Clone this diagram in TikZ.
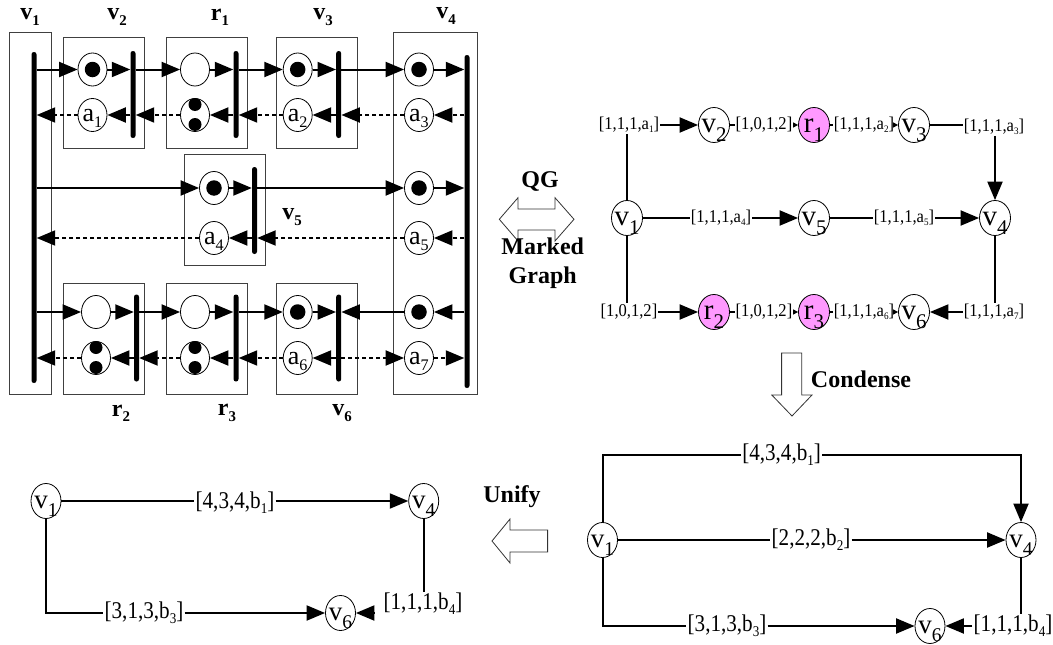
\documentclass[tikz,border=0pt]{standalone}
\usepackage{fontspec}
\usepackage{graphicx}
\setmainfont{Liberation Serif}
\newfontfamily\narrowa[FakeStretch=0.92]{Liberation Serif}
\newfontfamily\narrowb[FakeStretch=0.88]{Liberation Serif}
\usetikzlibrary{shapes.geometric,arrows.meta}
\newcommand\sbs[1]{\raisebox{-.22em}{\scalebox{.62}{#1}}}
\newcommand\sbl[1]{\raisebox{-.14em}{\scalebox{.55}{#1}}}
\newcommand\sbc[1]{\raisebox{-.3em}{\scalebox{.72}{#1}}}
\newcommand\clab[2]{\smash{\makebox[0pt]{\raisebox{-.27em}{#1\sbc{#2}}}}}
\newcommand\alab[2]{\smash{\makebox[0pt]{\raisebox{-.25em}{#1\sbs{#2}}}}}
\newcommand\hd[2]{\textbf{#1\sbs{#2}}}
\definecolor{pink1}{HTML}{FF99FF}
\tikzset{
  box/.style={draw=black!75,line width=.9pt,fill=none},
  place/.style={ellipse,draw,fill=white,line width=.8pt,inner sep=0pt,minimum width=29pt,minimum height=33pt,font=\fontsize{26}{28}\selectfont},
  tok/.style={circle,fill=black,inner sep=0pt,minimum size=15.5pt},
  bar/.style={rectangle,rounded corners=2.4pt,fill=black,inner sep=0pt,minimum width=5pt},
  arr/.style={-{Triangle[length=18.5pt,width=15pt]},line width=2pt},
  darr/.style={-{Triangle[length=18.5pt,width=15pt]},line width=2pt,dash pattern=on 4pt off 3pt},
  tiny/.style={-{Triangle[length=5pt,width=5pt]},line width=1.6pt},
  lin/.style={line width=2pt},
  head/.style={font=\fontsize{24}{26}\selectfont\bfseries,inner sep=0pt},
  vert/.style={ellipse,draw,fill=white,line width=.8pt,inner sep=0pt,minimum width=31pt,minimum height=35pt,font=\fontsize{29}{30}\selectfont},
  vertb/.style={vert,minimum width=30pt,minimum height=35pt,font=\fontsize{27}{30}\selectfont},
  res/.style={vert,fill=pink1},
  lab/.style={inner sep=1pt,font=\fontsize{18}{20}\narrowa},
  labb/.style={inner sep=1pt,font=\fontsize{24}{26}\narrowb},
  hollow/.style={draw=black!80,line width=.8pt,fill=white},
}
\begin{document}
\begin{tikzpicture}[x=1pt,y=-1pt]
\useasboundingbox (0,0) rectangle (1053,645);
% boxes
\draw[box] (9.5,32.5) rectangle (51.5,394.5);
\draw[box] (63.5,37) rectangle (144.5,148);
\draw[box] (166,37) rectangle (247,148);
\draw[box] (276,37) rectangle (357,148);
\draw[box] (393.7,32.5) rectangle (477.7,394.5);
\draw[box] (184.5,154) rectangle (265.5,265.5);
\draw[box] (63.5,283.5) rectangle (144.5,394.5);
\draw[box] (166,283.5) rectangle (247,394.5);
\draw[box] (276,283.5) rectangle (357,394.5);
% bars
\node[bar,minimum height=331pt] (b1) at (34,217.5) {};
\node[bar,minimum height=87pt] (b2) at (133,94.5) {};
\node[bar,minimum height=87pt] (br1) at (236,94.5) {};
\node[bar,minimum height=87pt] (b3) at (338.7,94.5) {};
\node[bar,minimum height=333pt] (b4) at (467,221.5) {};
\node[bar,minimum height=87pt] (b5) at (254.5,210.5) {};
\node[bar,minimum height=87pt] (br2) at (136.5,338) {};
\node[bar,minimum height=87pt] (br3) at (236,338) {};
\node[bar,minimum height=87pt] (b6) at (338.7,338) {};
% places
\node[place] (p1) at (92.5,69.5) {};
\node[place] (q1) at (92.5,115) {\alab{a}{1}};
\node[place] (p2) at (195,69.5) {};
\node[place] (q2) at (195,115) {};
\node[place] (p3) at (297.7,69.5) {};
\node[place] (q3) at (297.7,115) {\alab{a}{2}};
\node[place] (p4) at (419,69.5) {};
\node[place] (q4) at (419,115) {\alab{a}{3}};
\node[place] (p5) at (214,188) {};
\node[place] (q5) at (214,238) {\alab{a}{4}};
\node[place] (p6) at (419,188) {};
\node[place] (q6) at (419,238) {\alab{a}{5}};
\node[place] (p7) at (96,312) {};
\node[place] (q7) at (96,358) {};
\node[place] (p8) at (195,312) {};
\node[place] (q8) at (195,358) {};
\node[place] (p9) at (297.7,312) {};
\node[place] (q9) at (297.7,358) {\alab{a}{6}};
\node[place] (p10) at (419,312) {};
\node[place] (q10) at (419,358) {\alab{a}{7}};
% tokens
\node[tok] (t1) at (p1) {};
\node[tok] (t3) at (p3) {};
\node[tok] (t4) at (p4) {};
\node[tok] (t5) at (p5) {};
\node[tok] (t6) at (p6) {};
\node[tok] (t9) at (p9) {};
\node[tok] (t10) at (p10) {};
\node[tok,minimum size=13pt] (t21) at (195,104.5) {};
\node[tok,minimum size=13pt] (t22) at (195,124.5) {};
\node[tok,minimum size=13pt] (t71) at (96,347.5) {};
\node[tok,minimum size=13pt] (t72) at (96,367.5) {};
\node[tok,minimum size=13pt] (t81) at (195,347.5) {};
\node[tok,minimum size=13pt] (t82) at (195,367.5) {};
% top row solid
\draw[arr] (b1.east |- p1) -- (p1);
\draw[arr] (p1) -- (p1 -| b2.west);
\draw[arr] (b2.east |- p2) -- (p2);
\draw[arr] (p2) -- (p2 -| br1.west);
\draw[arr] (br1.east |- p3) -- (p3);
\draw[arr] (p3) -- (p3 -| b3.west);
\draw[arr] (b3.east |- p4) -- (p4);
\draw[arr] (p4) -- (p4 -| b4.west);
% top row dashed
\draw[darr] (b4.west |- q4) -- (q4);
\draw[darr] (q4) -- (q4 -| b3.east);
\draw[arr] (b3.west |- q3) -- (q3);
\draw[darr] (q3) -- (q3 -| br1.east);
\draw[arr] (br1.west |- q2) -- (q2);
\draw[darr] (q2) -- (q2 -| b2.east);
\draw[arr] (b2.west |- q1) -- (q1);
\draw[darr] (q1) -- (q1 -| b1.east);
% middle
\draw[arr] (b1.east |- p5) -- (p5);
\draw[arr] (p5) -- (p5 -| b5.west);
\draw[arr] (b5.east |- p6) -- (p6);
\draw[arr] (p6) -- (p6 -| b4.west);
\draw[darr] (b4.west |- q6) -- (q6);
\draw[darr] (q6) -- (q6 -| b5.east);
\draw[arr] (b5.west |- q5) -- (q5);
\draw[darr] (q5) -- (q5 -| b1.east);
% bottom solid
\draw[arr] (b1.east |- p7) -- (p7);
\draw[arr] (p7) -- (p7 -| br2.west);
\draw[arr] (br2.east |- p8) -- (p8);
\draw[arr] (p8) -- (p8 -| br3.west);
\draw[arr] (br3.east |- p9) -- (p9);
\draw[arr] (p9) -- (p9 -| b6.west);
\draw[arr] (p10) -- (p10 -| b6.east);
\draw[arr] (b4.west |- p10) -- (p10);
% bottom dashed
\draw[darr] (q7) -- (q7 -| b1.east);
\draw[arr] (br2.west |- q7) -- (q7);
\draw[darr] (q8) -- (q8 -| br2.east);
\draw[arr] (br3.west |- q8) -- (q8);
\draw[darr] (q9) -- (q9 -| br3.east);
\draw[arr] (b6.west |- q9) -- (q9);
\draw[darr] (b6.east |- q10) -- (q10);
\draw[darr] (q10) -- (q10 -| b4.west);
% heads
\node[head] (h1) at (30,17) {\hd{v}{1}};
\node[head] (h2) at (117,17) {\hd{v}{2}};
\node[head] (h3) at (220,17) {\hd{r}{1}};
\node[head] (h4) at (323,17) {\hd{v}{3}};
\node[head] (h5) at (446,16) {\hd{v}{4}};
\node[head] (h6) at (292,217) {\hd{v}{5}};
\node[head] (h7) at (121,413) {\hd{r}{2}};
\node[head] (h8) at (227,413) {\hd{r}{3}};
\node[head] (h9) at (342,413) {\hd{v}{6}};
% QG
\draw[hollow] (499.3,219.3) -- (518,197.7) -- (518,209) -- (555,209) -- (555,197.7) -- (574,219.3) -- (555,241) -- (555,230) -- (518,230) -- (518,241) -- cycle;
\node[head] (qg) at (540,181) {QG};
\node[head] (mk) at (542.7,246) {Marked};
\node[head] (gr) at (542.7,278) {Graph};
% upper right graph
\node[vert] (r1) at (627,218) {\clab{v}{1}};
\node[vert] (r2) at (714,125) {\clab{v}{2}};
\node[res] (rr1) at (814,125) {\clab{r}{1}};
\node[vert] (r3) at (914,125) {\clab{v}{3}};
\node[vert] (r5) at (814,218) {\clab{v}{5}};
\node[vert] (r4) at (995,218) {\clab{v}{4}};
\node[res] (rr2) at (714,312) {\clab{r}{2}};
\node[res] (rr3) at (814,312) {\clab{r}{3}};
\node[vert] (r6) at (914,312) {\clab{v}{6}};
\node[lab] (l1) at (629,125) {[1,1,1,a\sbl{1}]};
\node[lab] (l2) at (764,125) {[1,0,1,2]};
\node[lab] (l3) at (864,125) {[1,1,1,a\sbl{2}]};
\node[lab] (l4) at (994,127) {[1,1,1,a\sbl{3}]};
\node[lab] (l5) at (721,218) {[1,1,1,a\sbl{4}]};
\node[lab] (l6) at (904,218) {[1,1,1,a\sbl{5}]};
\node[lab] (l7) at (629,312) {[1,0,1,2]};
\node[lab] (l8) at (764,312) {[1,0,1,2]};
\node[lab] (l9) at (864,312) {[1,1,1,a\sbl{6}]};
\node[lab] (l10) at (994,312) {[1,1,1,a\sbl{7}]};
\draw[lin] (r1) -- (r1 |- l1.south);
\draw[arr] (l1) -- (r2);
\draw[lin] (r2) -- (l2);
\draw[tiny] (l2) -- (rr1);
\draw[lin] (rr1) -- (l3);
\draw[tiny] (l3) -- (r3);
\draw[lin] (r3) -- (r3 -| l4.west);
\draw[arr] (r4 |- l4.south) -- (r4);
\draw[lin] (r1) -- (l5);
\draw[arr] (l5) -- (r5);
\draw[lin] (r5) -- (l6);
\draw[arr] (l6) -- (r4);
\draw[lin] (r1) -- (r1 |- l7.north);
\draw[arr] (l7) -- (rr2);
\draw[lin] (rr2) -- (l8);
\draw[tiny] (l8) -- (rr3);
\draw[lin] (rr3) -- (l9);
\draw[tiny] (l9) -- (r6);
\draw[lin] (r4) -- (r4 |- l10.north);
\draw[arr] (l10) -- (r6);
% condense
\draw[hollow] (781.6,353) -- (801.8,353) -- (801.8,395) -- (812,395) -- (792,416) -- (771.8,395) -- (781.6,395) -- cycle;
\node[head] (cd) at (861,379) {Condense};
% lower right graph
\node[vertb] (s1) at (602.5,540) {\clab{v}{1}};
\node[vertb] (s4) at (1021,540) {\clab{v}{4}};
\node[vertb] (s6) at (930,626) {\clab{v}{6}};
\node[labb] (m1) at (781.6,455) {[4,3,4,b\sbs{1}]};
\node[labb] (m2) at (811,540) {[2,2,2,b\sbs{2}]};
\node[labb] (m3) at (727,626) {[3,1,3,b\sbs{3}]};
\node[labb] (m4) at (1013,626) {[1,1,1,b\sbs{4}]};
\draw[lin] (s1) |- (m1);
\draw[arr] (m1) -| (s4);
\draw[lin] (s1) -- (s1 -| m2.west);
\draw[arr] (s4 -| m2.east) -- (s4);
\draw[lin] (s1) |- (m3);
\draw[arr] (m3) -- (s6);
\draw[lin] (s4) -- (s4 |- m4.north);
\draw[arr] (m4) -- (s6);
% unify
\draw[hollow] (492,541) -- (510,519) -- (510,530) -- (547.6,530) -- (547.6,552) -- (510,552) -- (510,563) -- cycle;
\node[head] (un) at (512,497) {Unify};
% lower left graph
\node[vertb] (u1) at (46,501) {\clab{v}{1}};
\node[vertb] (u4) at (423.7,501) {\clab{v}{4}};
\node[vertb] (u6) at (340.5,613) {\clab{v}{6}};
\node[labb] (n1) at (235,503) {[4,3,4,b\sbs{1}]};
\node[labb] (n3) at (144,613) {[3,1,3,b\sbs{3}]};
\node[labb] (n4) at (423,604) {[1,1,1,b\sbs{4}]};
\coordinate (n4s) at (374,613);
\draw[lin] (u1) -- (u1 -| n1.west);
\draw[arr] (u1 -| n1.east) -- (u4);
\draw[lin] (u1) |- (n3);
\draw[arr] (n3) -- (u6);
\draw[lin] (u4) -- (u4 |- n4.north);
\draw[arr] (n4s) -- (u6);
\end{tikzpicture}
\end{document}
